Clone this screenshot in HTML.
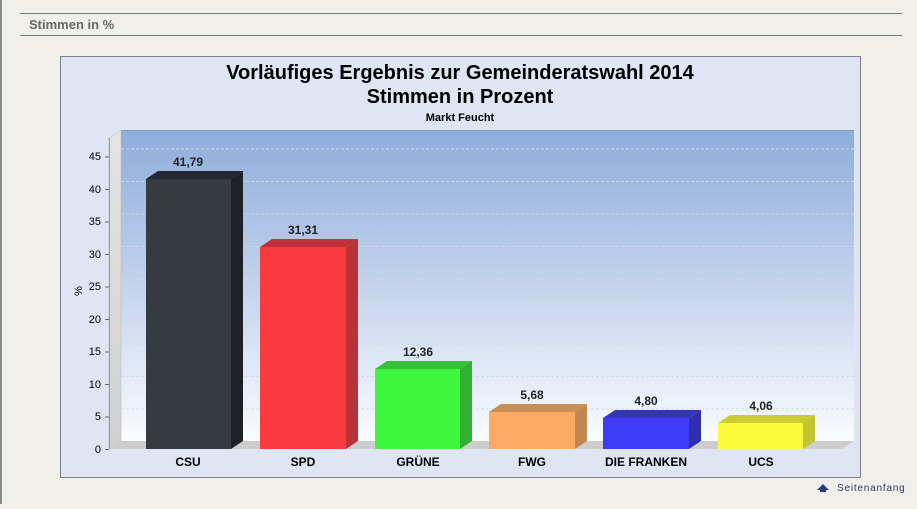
<!DOCTYPE html>
<html><head><meta charset="utf-8"><style>
body{margin:0;width:917px;height:504px;background:#f0efe9;overflow:hidden;font-family:"Liberation Sans",Arial,sans-serif;}
</style></head><body>
<svg width="917" height="504" xmlns="http://www.w3.org/2000/svg" font-family="Liberation Sans, Arial, sans-serif">
<defs>
<linearGradient id="wall" x1="0" y1="0" x2="0" y2="1">
<stop offset="0" stop-color="#8eaddb"/><stop offset="0.5" stop-color="#c3d3ec"/><stop offset="1" stop-color="#fafcff"/></linearGradient>
<linearGradient id="side" x1="0" y1="0" x2="0" y2="1"><stop offset="0" stop-color="#e4e4e4"/><stop offset="1" stop-color="#d0d0d0"/></linearGradient>
</defs>
<rect x="0" y="0" width="2" height="504" fill="#8a8a8a"/>
<line x1="20" y1="13.5" x2="902" y2="13.5" stroke="#7a7a7a" stroke-width="1"/>
<line x1="20" y1="35.5" x2="902" y2="35.5" stroke="#7a7a7a" stroke-width="1"/>
<text x="29" y="29" font-size="13" font-weight="bold" fill="#666">Stimmen in %</text>
<rect x="60.5" y="56.5" width="800" height="421" fill="#dfe5f3" stroke="#7f8088"/>
<text x="460" y="79" font-size="20" font-weight="bold" text-anchor="middle" fill="#000">Vorläufiges Ergebnis zur Gemeinderatswahl 2014</text>
<text x="460" y="103" font-size="20" font-weight="bold" text-anchor="middle" fill="#000">Stimmen in Prozent</text>
<text x="460" y="121" font-size="11" font-weight="bold" text-anchor="middle" fill="#000">Markt Feucht</text>
<rect x="121" y="130" width="733" height="311" fill="url(#wall)"/>
<line x1="121" y1="130.5" x2="854" y2="130.5" stroke="#8a9ab8"/>
<polygon points="109,138 121,130 121,441 109,449" fill="url(#side)" stroke="#b8b8b8" stroke-width="0.5"/>
<polygon points="109,449 121,441 854,441 842,449" fill="#cdcdcd"/>
<g stroke="#d0d8e8" stroke-dasharray="3,2" stroke-width="1">
<line x1="121" y1="409" x2="854" y2="409"/><line x1="121" y1="376.5" x2="854" y2="376.5"/><line x1="121" y1="344" x2="854" y2="344"/><line x1="121" y1="311.5" x2="854" y2="311.5"/><line x1="121" y1="279" x2="854" y2="279"/><line x1="121" y1="246.5" x2="854" y2="246.5"/><line x1="121" y1="214" x2="854" y2="214"/><line x1="121" y1="181.5" x2="854" y2="181.5"/><line x1="121" y1="149" x2="854" y2="149"/></g>
<line x1="109.5" y1="138" x2="109.5" y2="449" stroke="#999"/>
<g font-size="11" fill="#000" text-anchor="end">
<text x="101" y="453">0</text><text x="101" y="420">5</text><text x="101" y="388">10</text><text x="101" y="355">15</text><text x="101" y="323">20</text><text x="101" y="290">25</text><text x="101" y="258">30</text><text x="101" y="225">35</text><text x="101" y="193">40</text><text x="101" y="160">45</text></g>
<g stroke="#666"><line x1="105" y1="449.5" x2="109" y2="449.5"/><line x1="105" y1="417" x2="109" y2="417"/><line x1="105" y1="384.5" x2="109" y2="384.5"/><line x1="105" y1="352" x2="109" y2="352"/><line x1="105" y1="319.5" x2="109" y2="319.5"/><line x1="105" y1="287" x2="109" y2="287"/><line x1="105" y1="254.5" x2="109" y2="254.5"/><line x1="105" y1="222" x2="109" y2="222"/><line x1="105" y1="189.5" x2="109" y2="189.5"/><line x1="105" y1="157" x2="109" y2="157"/></g>
<text x="82" y="291" font-size="11" fill="#000" transform="rotate(-90 82 291)" text-anchor="middle">%</text>
<!-- bars: x, top -->
<g>
<polygon points="231,179 243,171 243,441 231,449" fill="#1e2228"/><polygon points="146,179 158,171 243,171 231,179" fill="#22262e"/><rect x="146" y="179" width="85" height="270" fill="#363b42"/>
<polygon points="346,247 358,239 358,441 346,449" fill="#b8323a"/><polygon points="260,247 272,239 358,239 346,247" fill="#c0303a"/><rect x="260" y="247" width="86" height="202" fill="#f93a3e"/>
<polygon points="460,369 472,361 472,441 460,449" fill="#32b032"/><polygon points="375,369 387,361 472,361 460,369" fill="#38c038"/><rect x="375" y="369" width="85" height="80" fill="#3ef63e"/>
<polygon points="575,412 587,404 587,441 575,449" fill="#c08850"/><polygon points="489,412 501,404 587,404 575,412" fill="#c88e58"/><rect x="489" y="412" width="86" height="37" fill="#fdaa64"/>
<polygon points="689,418 701,410 701,441 689,449" fill="#2e2eb0"/><polygon points="603,418 615,410 701,410 689,418" fill="#3434b8"/><rect x="603" y="418" width="86" height="31" fill="#3d3df7"/>
<polygon points="803,423 815,415 815,441 803,449" fill="#c4c430"/><polygon points="718,423 730,415 815,415 803,423" fill="#cccc34"/><rect x="718" y="423" width="85" height="26" fill="#fafa3a"/>
</g>
<g font-size="12" font-weight="bold" fill="#222" text-anchor="middle">
<text x="188" y="166">41,79</text><text x="303" y="234">31,31</text><text x="418" y="356">12,36</text><text x="532" y="399">5,68</text><text x="646" y="405">4,80</text><text x="761" y="410">4,06</text></g>
<g font-size="12" font-weight="bold" fill="#000" text-anchor="middle">
<text x="188" y="466">CSU</text><text x="303" y="466">SPD</text><text x="418" y="466">GRÜNE</text><text x="532" y="466">FWG</text><text x="646" y="466">DIE FRANKEN</text><text x="761" y="466">UCS</text></g>
<polygon points="817,490 823,484 829,490 826,490 826,492 820,492 820,490" fill="#2a3c78"/>
<text x="837" y="491" font-size="10" fill="#2a3c6a" letter-spacing="0.8">Seitenanfang</text>
</svg>
</body></html>
